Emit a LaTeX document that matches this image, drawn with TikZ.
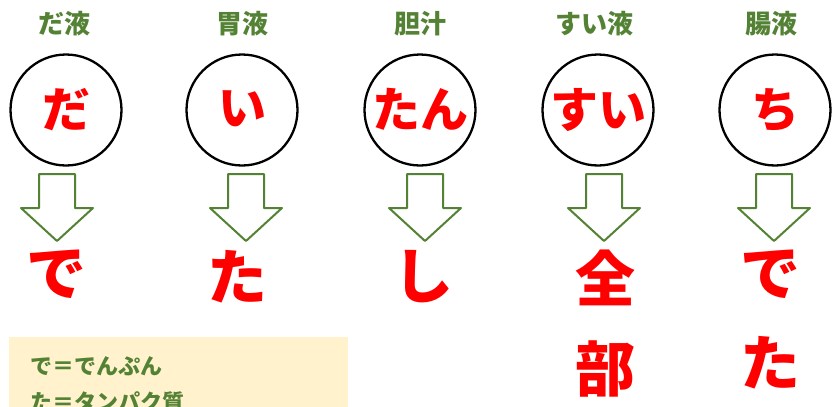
\documentclass[tikz,border=0pt]{standalone}
\usepackage{fontspec}
\newfontfamily\jpfont{Noto Sans CJK JP}[BoldFont={Noto Sans CJK JP Black}]
\usepackage{tikz}
\definecolor{leaf}{RGB}{84,130,53}
\definecolor{memo}{RGB}{255,242,204}

\newcommand{\yajirushi}[1]{\draw[yaji,shift={(#1)}] (-18,0)-- (18,0)-- (18,34)-- (36,34)-- (0,67)-- (-36,34)-- (-18,34)-- cycle;}

\begin{document}
\begin{tikzpicture}[x=1pt,y=-1pt,
	eki/.style={inner sep=0pt,text=leaf,font=\jpfont\bfseries\fontsize{26}{26}\selectfont},
	maru/.style={circle,draw,line width=2.3pt,minimum size=111pt,inner sep=0pt,text=red,font=\jpfont\bfseries\fontsize{48}{48}\selectfont},
	kotae/.style={inner sep=0pt,text=red,align=center,font=\jpfont\bfseries\fontsize{60}{90}\selectfont},
	yaji/.style={draw=leaf,line width=2pt,fill=white,line join=round},
	memotext/.style={inner sep=0pt,anchor=west,text=leaf,font=\jpfont\bfseries\fontsize{22}{22}\selectfont}]
				\useasboundingbox (0,0) rectangle (833,407);
				
				% labels
				\node[eki] (e1) at (64,24) {だ液};
				\node[eki] (e2) at (242,24) {胃液};
				\node[eki] (e3) at (420,24) {胆汁};
				\node[eki] (e4) at (594,24) {すい液};
				\node[eki] (e5) at (771,24) {腸液};
				
				% circles
				\node[maru] (c1) at (66,110) {\raisebox{4pt}{だ}};
				\node[maru] (c2) at (242,110) {\raisebox{4pt}{い}};
				\node[maru] (c3) at (420,110) {\raisebox{4pt}{たん}};
				\node[maru] (c4) at (598,110) {\raisebox{4pt}{すい}};
				\node[maru] (c5) at (775,110) {\raisebox{4pt}{ち}};
				
				% arrows
				\coordinate (a1) at (57,174);
				\coordinate (a2) at (246,174);
				\coordinate (a3) at (425,174);
				\coordinate (a4) at (604,174);
				\coordinate (a5) at (774,174);
				\yajirushi{a1}
				\yajirushi{a2}
				\yajirushi{a3}
				\yajirushi{a4}
				\yajirushi{a5}
				
				% answers
				\node[kotae,anchor=north] (k1) at (57,250) {で};
				\node[kotae,anchor=north] (k2) at (237,250) {た};
				\node[kotae,anchor=north] (k3) at (423,250) {し};
				\node[kotae,anchor=north] (k4) at (605,250) {全\\部};
				\node[kotae,anchor=north] (k5) at (770,250) {で\\た};
				
				% note
				\fill[memo] (9,337) rectangle (348,420);
				\node[memotext] (m1) at (30,366) {で＝でんぷん};
				\node[memotext] (m2) at (30,402) {た＝タンパク質};
\end{tikzpicture}
\end{document}
